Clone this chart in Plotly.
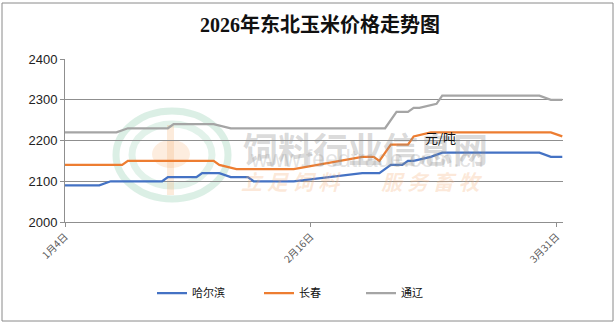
import plotly.graph_objects as go

# ---------------- data ----------------
harbin_dates = ["2026-01-04", "2026-01-10", "2026-01-12", "2026-01-21", "2026-01-22",
                "2026-01-27", "2026-01-28", "2026-01-31", "2026-02-02", "2026-02-05",
                "2026-02-06", "2026-02-13", "2026-02-25", "2026-02-28", "2026-03-02",
                "2026-03-04", "2026-03-05", "2026-03-06", "2026-03-09", "2026-03-11",
                "2026-03-28", "2026-03-30", "2026-04-01"]
harbin_vals = [2090, 2090, 2100, 2100, 2110,
               2110, 2120, 2120, 2110, 2110,
               2100, 2100, 2120, 2120, 2140,
               2140, 2150, 2150, 2160, 2170,
               2170, 2160, 2160]

changchun_dates = ["2026-01-04", "2026-01-14", "2026-01-15", "2026-01-30", "2026-01-31",
                   "2026-02-03", "2026-02-13", "2026-02-25", "2026-02-27", "2026-02-28",
                   "2026-03-02", "2026-03-05", "2026-03-06", "2026-03-09", "2026-03-30",
                   "2026-04-01"]
changchun_vals = [2140, 2140, 2150, 2150, 2140,
                  2130, 2130, 2160, 2160, 2150,
                  2190, 2190, 2210, 2220, 2220,
                  2210]

tongliao_dates = ["2026-01-04", "2026-01-13", "2026-01-15", "2026-01-22", "2026-01-23",
                  "2026-01-30", "2026-02-02", "2026-03-01", "2026-03-03", "2026-03-05",
                  "2026-03-06", "2026-03-07", "2026-03-10", "2026-03-11", "2026-03-28",
                  "2026-03-30", "2026-04-01"]
tongliao_vals = [2220, 2220, 2230, 2230, 2240,
                 2240, 2230, 2230, 2270, 2270,
                 2280, 2280, 2290, 2310, 2310,
                 2300, 2300]

series_names = ["哈尔滨", "长春", "通辽"]
series_colors = ["#4472C4", "#ED7D31", "#A5A5A5"]

tick_dates = ["2026-01-04", "2026-02-16", "2026-03-31"]
tick_labels = ["1月4日", "2月16日", "3月31日"]
y_ticks = [2000, 2100, 2200, 2300, 2400]

title_text = "2026年东北玉米价格走势图"
unit_text = "元/吨"
wm_name = "饲料行业信息网"
wm_url = "www.feedtrade.com.cn"
wm_slogan = "立 足 饲 料　　服 务 畜 牧"

# ---------------- figure ----------------
W, H = 616, 325
ML, MR, MT, MB = 65, 53, 59, 103
PW, PH = W - ML - MR, H - MT - MB


def px2paper_x(px):
    return (px - ML) / PW


def px2paper_y(py):
    return (H - MB - py) / PH


legend_widths = [62, 57, 50]

fig = go.Figure()
for d, v, n, c, lw in zip([harbin_dates, changchun_dates, tongliao_dates],
                          [harbin_vals, changchun_vals, tongliao_vals],
                          series_names, series_colors, legend_widths):
    fig.add_trace(go.Scatter(x=d, y=v, name=n, mode="lines", legendwidth=lw,
                             line=dict(color=c, width=2.25)))

grid_col = "#8f8f8f"
fig.update_layout(
    width=W, height=H,
    margin=dict(l=ML, r=MR, t=MT, b=MB),
    paper_bgcolor="white", plot_bgcolor="white",
    title=dict(text="<b>" + title_text + "</b>",
               font=dict(family="Liberation Serif, Noto Sans CJK SC", size=20, color="#111"),
               x=px2paper_x(320), xref="paper", xanchor="center",
               y=1 - 25 / H, yref="container", yanchor="middle"),
    xaxis=dict(type="date", range=["2026-01-04", "2026-04-01 03:00"],
               tickvals=tick_dates, ticktext=tick_labels, tickangle=-45,
               showgrid=False, showline=True, linecolor=grid_col, linewidth=1,
               ticks="outside", ticklen=4, tickcolor=grid_col,
               tickfont=dict(family="Noto Sans CJK SC", size=10, color="#595959")),
    yaxis=dict(range=[2000, 2400], tickvals=y_ticks,
               showgrid=True, gridcolor=grid_col, gridwidth=1, zeroline=False,
               showline=True, linecolor=grid_col, linewidth=1,
               ticks="outside", ticklen=4, tickcolor=grid_col,
               tickfont=dict(family="Liberation Sans, Arial", size=13, color="#222")),
    legend=dict(orientation="h", x=px2paper_x(152), xanchor="left",
                y=px2paper_y(293), yanchor="middle",
                font=dict(family="Noto Sans CJK SC", size=11, color="#111"),
                bgcolor="rgba(0,0,0,0)"),
    showlegend=True,
)

# outer border
fig.add_shape(type="rect", xref="paper", yref="paper",
              x0=px2paper_x(2), x1=px2paper_x(613), y0=px2paper_y(321), y1=px2paper_y(3),
              line=dict(color="#8a8a8a", width=1), fillcolor="rgba(0,0,0,0)", layer="below")

# watermark logo
for rx, ry, col in [(56, 44, "rgba(110,190,150,0.25)"), (40, 31, "rgba(110,190,150,0.2)")]:
    fig.add_shape(type="circle", xref="paper", yref="paper",
                  x0=px2paper_x(172 - rx), x1=px2paper_x(172 + rx),
                  y0=px2paper_y(155 + ry), y1=px2paper_y(155 - ry),
                  line=dict(color=col, width=7), layer="below")
fig.add_shape(type="rect", xref="paper", yref="paper",
              x0=px2paper_x(167), x1=px2paper_x(174),
              y0=px2paper_y(195), y1=px2paper_y(125),
              line=dict(width=0), fillcolor="rgba(245,175,110,0.25)", layer="below")
fig.add_shape(type="circle", xref="paper", yref="paper",
              x0=px2paper_x(152), x1=px2paper_x(190),
              y0=px2paper_y(168), y1=px2paper_y(140),
              line=dict(width=0), fillcolor="rgba(245,175,110,0.22)", layer="below")

# watermark texts
fig.add_annotation(text="<b>" + wm_name + "</b>", xref="paper", yref="paper",
                   x=px2paper_x(365), y=px2paper_y(147), showarrow=False,
                   font=dict(family="Noto Sans CJK SC", size=35, color="rgba(140,140,140,0.33)"))
fig.add_annotation(text=wm_url, xref="paper", yref="paper",
                   x=px2paper_x(367), y=px2paper_y(174), showarrow=False,
                   font=dict(family="Liberation Sans", size=23, color="rgba(150,150,150,0.27)"))
fig.add_annotation(text="<b><i>" + wm_slogan + "</i></b>", xref="paper", yref="paper",
                   x=px2paper_x(362), y=px2paper_y(198), showarrow=False,
                   font=dict(family="Noto Sans CJK SC", size=21, color="rgba(245,175,120,0.28)"))

# unit label
fig.add_annotation(text=unit_text, xref="paper", yref="paper",
                   x=px2paper_x(458), y=px2paper_y(137), showarrow=False,
                   font=dict(family="Noto Sans CJK SC", size=13, color="#111"))

fig.write_html("out.html")
